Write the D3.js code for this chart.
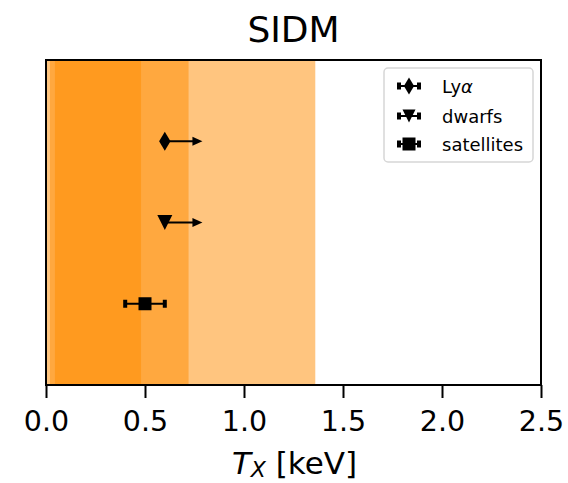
<!DOCTYPE html>
<html>
<head>
<meta charset="utf-8">
<script src="https://cdn.jsdelivr.net/npm/d3@7"></script>
<style>
  html, body { margin: 0; padding: 0; background: #fff; }
  svg text { font-family: "DejaVu Sans", sans-serif; }
</style>
</head>
<body>
<svg id="chart" width="568" height="483"></svg>
<script>
// Allowed temperature ranges (keV), drawn as stacked translucent bands
const bandNames = ["broad", "mid", "narrow"];
const bandLo = [0.003, 0.02, 0.045];
const bandHi = [1.36, 0.72, 0.48];

// Constraints
const probes = ["Lyα", "dwarfs", "satellites"];
const probeRow = [3, 2, 1];
const probeValue = [0.6, 0.6, 0.5];
const probeErr = [0, 0, 0.1];          // symmetric error (satellites)
const probeLimitLen = [0.19, 0.19, 0]; // lower-limit arrow length
const probeShape = ["thinDiamond", "triangleDown", "square"];

const xTicks = [0.0, 0.5, 1.0, 1.5, 2.0, 2.5];

const svg = d3.select("#chart");
const plotL = 46, plotR = 541, plotT = 60, plotB = 385;

const x = d3.scaleLinear().domain([0, 2.5]).range([plotL, plotR]);
const y = d3.scaleLinear().domain([0, 4]).range([plotB, plotT]);

// Bands
svg.append("g").selectAll("rect")
  .data(bandNames.map((n, i) => ({ n, lo: bandLo[i], hi: bandHi[i] })))
  .join("rect")
  .attr("x", d => x(d.lo))
  .attr("y", plotT)
  .attr("width", d => x(d.hi) - x(d.lo))
  .attr("height", plotB - plotT)
  .attr("fill", "#ff8c00")
  .attr("fill-opacity", 0.5);

function markerPath(shape, s) {
  const p = d3.path();
  if (shape === "thinDiamond") {
    const h = s / 2, w = s * 0.3;
    p.moveTo(0, -h); p.lineTo(w, 0); p.lineTo(0, h); p.lineTo(-w, 0); p.closePath();
  } else if (shape === "triangleDown") {
    const h = s / 2;
    p.moveTo(-h, -h); p.lineTo(h, -h); p.lineTo(0, h); p.closePath();
  } else {
    const h = s / 2;
    p.rect(-h, -h, s, s);
  }
  return p.toString();
}

const markerSize = [19, 15, 13];

// Data marks
const pts = svg.append("g");
probes.forEach((name, i) => {
  const cy = y(probeRow[i]);
  const cx = x(probeValue[i]);
  const g = pts.append("g");
  if (probeLimitLen[i] > 0) {
    const xe = x(probeValue[i] + probeLimitLen[i]);
    g.append("line").attr("x1", cx).attr("x2", xe - 6).attr("y1", cy).attr("y2", cy)
      .attr("stroke", "#000").attr("stroke-width", 2);
    g.append("path")
      .attr("d", `M${xe},${cy} L${xe - 10},${cy - 4.5} L${xe - 10},${cy + 4.5} Z`)
      .attr("fill", "#000");
  }
  if (probeErr[i] > 0) {
    const x0 = x(probeValue[i] - probeErr[i]), x1 = x(probeValue[i] + probeErr[i]);
    g.append("line").attr("x1", x0).attr("x2", x1).attr("y1", cy).attr("y2", cy)
      .attr("stroke", "#000").attr("stroke-width", 2);
    [x0, x1].forEach(xc => g.append("rect")
      .attr("x", xc - 2).attr("y", cy - 4).attr("width", 4).attr("height", 8)
      .attr("fill", "#000"));
  }
  g.append("path")
    .attr("transform", `translate(${cx},${cy})`)
    .attr("d", markerPath(probeShape[i], markerSize[i]))
    .attr("fill", "#000");
});

// Frame
svg.append("rect").attr("x", plotL).attr("y", plotT)
  .attr("width", plotR - plotL).attr("height", plotB - plotT)
  .attr("fill", "none").attr("stroke", "#000").attr("stroke-width", 2);

// X axis
const xAxis = svg.append("g").attr("transform", `translate(0,${plotB})`)
  .call(d3.axisBottom(x).tickValues(xTicks).tickFormat(d3.format(".1f"))
    .tickSizeInner(13).tickSizeOuter(0).tickPadding(13));
xAxis.select(".domain").remove();
xAxis.selectAll(".tick line").attr("stroke", "#000").attr("stroke-width", 2);
xAxis.selectAll(".tick text").attr("font-size", 28.5).attr("fill", "#000")
  .attr("font-family", "DejaVu Sans, sans-serif");

// Axis label
const xl = svg.append("text").attr("x", (plotL + plotR) / 2 + 1).attr("y", 474)
  .attr("text-anchor", "middle").attr("font-size", 31).attr("fill", "#000");
xl.append("tspan").attr("font-style", "italic").text("T");
xl.append("tspan").attr("font-style", "italic").attr("font-size", 22).attr("dy", 3).text("X");
xl.append("tspan").attr("dy", -3).text(" [keV]");

// Title
svg.append("text").attr("x", (plotL + plotR) / 2) .attr("y", 42)
  .attr("text-anchor", "middle").attr("font-size", 36).attr("fill", "#000").text("SIDM");

// Legend
const lg = svg.append("g");
lg.append("rect").attr("x", 384).attr("y", 68).attr("width", 149).attr("height", 94)
  .attr("rx", 4).attr("fill", "#fff").attr("fill-opacity", 0.8)
  .attr("stroke", "#d6d6d6").attr("stroke-width", 1.5);
const legendRows = [86, 116, 144];
const legendSize = [17, 13, 13];
probes.forEach((name, i) => {
  const cy = legendRows[i], cx = 409;
  const g = lg.append("g");
  g.append("line").attr("x1", cx - 10).attr("x2", cx + 10).attr("y1", cy).attr("y2", cy)
    .attr("stroke", "#000").attr("stroke-width", 2);
  [cx - 10, cx + 10].forEach(xc => g.append("rect")
    .attr("x", xc - 2).attr("y", cy - 3.5).attr("width", 4).attr("height", 7).attr("fill", "#000"));
  g.append("path").attr("transform", `translate(${cx},${cy})`)
    .attr("d", markerPath(probeShape[i], legendSize[i])).attr("fill", "#000");
  const t = g.append("text").attr("x", 442).attr("y", cy + 6.5)
    .attr("font-size", 18).attr("fill", "#000");
  if (name === "Lyα") {
    t.append("tspan").text("Ly");
    t.append("tspan").attr("font-style", "italic").text("α");
  } else {
    t.text(name);
  }
});
</script>
</body>
</html>
